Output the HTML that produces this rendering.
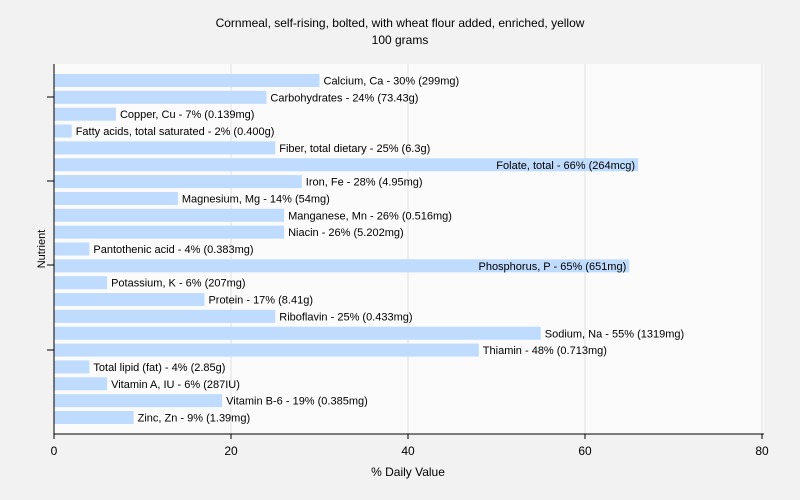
<!DOCTYPE html>
<html><head><meta charset="utf-8"><style>
body{margin:0;background:#f2f2f2;}
svg{display:block;font-family:"Liberation Sans",sans-serif;}
</style></head><body>
<svg id="chart" width="800" height="500">
<text x="400" y="27" text-anchor="middle" font-size="12">Cornmeal, self-rising, bolted, with wheat flour added, enriched, yellow</text>
<text x="400" y="44" text-anchor="middle" font-size="12">100 grams</text>
<rect x="54" y="64" width="710" height="370" fill="#fbfbfb"/>
<g id="grid"></g><g id="bars"></g><g id="axes"></g>
<text x="408" y="476" text-anchor="middle" font-size="12">% Daily Value</text>
<text transform="translate(45,249) rotate(-90)" text-anchor="middle" font-size="11">Nutrient</text>
</svg>
<script>
const names=["Calcium, Ca","Carbohydrates","Copper, Cu","Fatty acids, total saturated","Fiber, total dietary","Folate, total","Iron, Fe","Magnesium, Mg","Manganese, Mn","Niacin","Pantothenic acid","Phosphorus, P","Potassium, K","Protein","Riboflavin","Sodium, Na","Thiamin","Total lipid (fat)","Vitamin A, IU","Vitamin B-6","Zinc, Zn"];
const values=[30,24,7,2,25,66,28,14,26,26,4,65,6,17,25,55,48,4,6,19,9];
const amounts=["299mg","73.43g","0.139mg","0.400g","6.3g","264mcg","4.95mg","54mg","0.516mg","5.202mg","0.383mg","651mg","207mg","8.41g","0.433mg","1319mg","0.713mg","2.85g","287IU","0.385mg","1.39mg"];
const xTicks=[0,20,40,60,80];
const NS="http://www.w3.org/2000/svg";
const x0=54,x1=762,xMax=80;
const xs=v=>x0+(x1-x0)*v/xMax;
const yTop=74,step=16.85,bh=13;
const ys=i=>yTop+i*step;
function mk(t,a,p){const e=document.createElementNS(NS,t);for(const k in a)e.setAttribute(k,a[k]);p.appendChild(e);return e;}
const grid=document.getElementById('grid'),bars=document.getElementById('bars'),axes=document.getElementById('axes');
xTicks.forEach(t=>{
 if(t>0){const g=mk('line',{x1:xs(t),x2:xs(t),y1:64,y2:434,stroke:'#e0e0e0'},grid);
 
 }
 const tk=mk('line',{x1:xs(t),x2:xs(t),y1:434,y2:439,stroke:'#000'},axes);
 
 
 const lb=mk('text',{x:xs(t),y:455,'text-anchor':'middle','font-size':12},axes);lb.textContent=t;
 
 
});
names.forEach((n,i)=>{
 const w=xs(values[i])-x0;
 const r=mk('rect',{x:x0,y:ys(i),width:w,height:bh,fill:'#bfdbfd'},bars);
 
 
 const label=n+' - '+values[i]+'% ('+amounts[i]+')';
 const inside=values[i]>60;
 const t=mk('text',{x:inside?xs(values[i])-3:xs(values[i])+4,y:ys(i)+bh/2+4,'text-anchor':inside?'end':'start','font-size':11},bars);
 t.textContent=label;
 
 
});
mk('line',{x1:x0,x2:x0,y1:64,y2:434,stroke:'#000'},axes);
mk('line',{x1:x0,x2:764,y1:434,y2:434,stroke:'#000'},axes);
[97,181,265,350].forEach(y=>mk('line',{x1:47,x2:x0,y1:y,y2:y,stroke:'#000'},axes));
</script>
</body></html>
